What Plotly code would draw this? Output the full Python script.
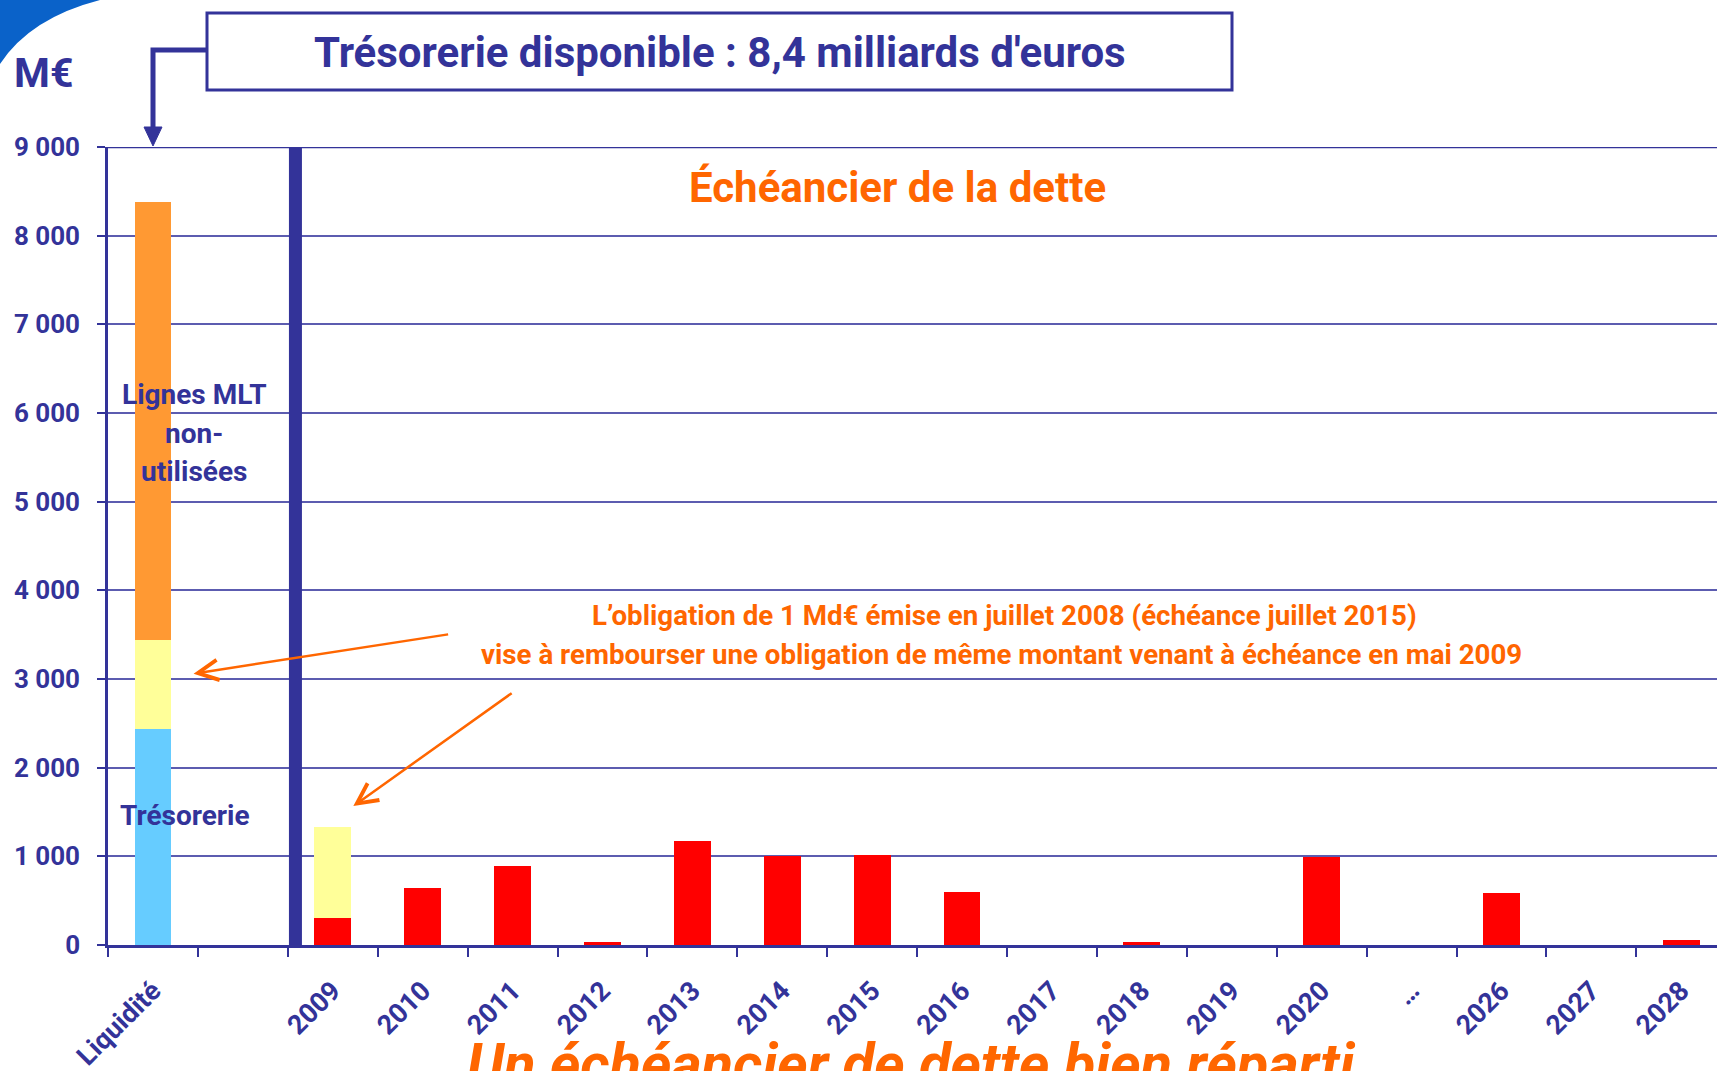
import plotly.graph_objects as go

# ---------------- data ----------------
categories = ["Liquidité", " ", "2009", "2010", "2011", "2012", "2013", "2014",
              "2015", "2016", "2017", "2018", "2019", "2020", "…", "2026", "2027", "2028"]

tresorerie = [2440, None, None, None, None, None, None, None, None, None,
              None, None, None, None, None, None, None, None]
dette = [None, None, 308, 642, 892, 34, 1172, 1008, 1010, 597,
         0, 30, 0, 988, 0, 586, 0, 55]
obligation = [1003, None, 1026, None, None, None, None, None, None, None,
              None, None, None, None, None, None, None, None]
lignes_mlt = [4937, None, None, None, None, None, None, None, None, None,
              None, None, None, None, None, None, None, None]

y_tickvals = [0, 1000, 2000, 3000, 4000, 5000, 6000, 7000, 8000, 9000]
y_ticktext = ["0", "1 000", "2 000", "3 000", "4 000", "5 000", "6 000", "7 000", "8 000", "9 000"]

# ---------------- style ----------------
NAVY = "#333399"
ORANGE_TXT = "#FF6600"
GRID = "#5C5CB0"
FONT = "Roboto, Liberation Sans, sans-serif"

W, H = 1717, 1071
ML, MT, MB, MR = 108, 147, 126, 0
PW, PH = W - ML - MR, H - MT - MB
CAT_PX = 89.9


def px(x):
    return (x - ML) / PW


def py(y):
    return (MT + PH - y) / PH


fig = go.Figure()
fig.add_trace(go.Bar(x=categories, y=tresorerie, name="Trésorerie",
                     marker=dict(color="#66CCFF", line=dict(width=0)), width=0.41))
fig.add_trace(go.Bar(x=categories, y=dette, name="Dette",
                     marker=dict(color="#FF0000", line=dict(width=0)), width=0.41))
fig.add_trace(go.Bar(x=categories, y=obligation, name="Obligation",
                     marker=dict(color="#FFFF99", line=dict(width=0)), width=0.41))
fig.add_trace(go.Bar(x=categories, y=lignes_mlt, name="Lignes MLT non-utilisées",
                     marker=dict(color="#FF9933", line=dict(width=0)), width=0.41))

shapes = []
# blue corner swoosh
shapes.append(dict(type="path", xref="paper", yref="paper",
                   path=f"M {px(0)},{py(0)} L {px(100)},{py(0)} Q {px(30)},{py(18)} {px(0)},{py(64)} Z",
                   fillcolor="#0A62C9", line=dict(width=0), layer="above"))
# title box
shapes.append(dict(type="rect", xref="paper", yref="paper",
                   x0=px(207), x1=px(1232), y0=py(90), y1=py(13),
                   line=dict(color=NAVY, width=3), fillcolor="white"))
# connector from box to liquidity column
shapes.append(dict(type="path", xref="paper", yref="paper",
                   path=f"M {px(207)},{py(50)} L {px(153)},{py(50)} L {px(153)},{py(130)}",
                   line=dict(color=NAVY, width=5)))
shapes.append(dict(type="path", xref="paper", yref="paper",
                   path=f"M {px(144)},{py(127)} L {px(162)},{py(127)} L {px(153)},{py(146)} Z",
                   fillcolor=NAVY, line=dict(color=NAVY, width=1)))
# top frame line
shapes.append(dict(type="line", xref="paper", yref="y", x0=0, x1=1, y0=9000, y1=9000,
                   line=dict(color=NAVY, width=2.5)))
# thick separator between liquidity and debt schedule
shapes.append(dict(type="line", xref="x", yref="y", x0=1.585, x1=1.585, y0=0, y1=9040,
                   line=dict(color=NAVY, width=13)))

annotations = []


def txt(text, x, y, size, color=NAVY, italic=False, xanchor="center"):
    annotations.append(dict(text=text, xref="paper", yref="paper", x=px(x), y=py(y),
                            xanchor=xanchor, yanchor="middle", showarrow=False,
                            font=dict(family=FONT, size=size, color=color, weight="bold",
                                      style="italic" if italic else "normal")))


txt("M€", 43, 73, 41)
txt("Trésorerie disponible : 8,4 milliards d'euros", 720, 53, 42)
txt("Échéancier de la dette", 897, 188, 42, ORANGE_TXT)
txt("L’obligation de 1 Md€ émise en juillet 2008 (échéance juillet 2015)", 1004, 615, 27.7, ORANGE_TXT)
txt("vise à rembourser une obligation de même montant venant à échéance en mai 2009", 1001, 654, 27.7, ORANGE_TXT)
txt("Lignes MLT", 194, 394, 28)
txt("non-", 194, 433, 28)
txt("utilisées", 194, 471, 28)
txt("Trésorerie", 185, 815, 28)
txt("Un échéancier de dette bien réparti", 911, 1064, 58, ORANGE_TXT, italic=True)

# orange arrows (data coordinates)
for (hx, hy, tx, ty) in [(0.452, 3060, 3.30, 3506), (2.229, 1567, 4.007, 2852)]:
    annotations.append(dict(x=hx, y=hy, ax=tx, ay=ty, xref="x", yref="y", axref="x", ayref="y",
                            text="", showarrow=True, arrowhead=5, arrowsize=1.6,
                            arrowwidth=2.5, arrowcolor="#FF6600"))

fig.update_layout(
    width=W, height=H, autosize=False,
    margin=dict(l=ML, r=MR, t=MT, b=MB, pad=0, autoexpand=False),
    paper_bgcolor="white", plot_bgcolor="white",
    barmode="stack", bargap=0.59, showlegend=False,
    shapes=shapes, annotations=annotations,
    font=dict(family=FONT, color=NAVY),
)
fig.update_xaxes(type="category", range=[-0.5, -0.5 + PW / CAT_PX], automargin=False,
                 tickson="boundaries", ticks="outside", ticklen=9, tickwidth=1.5,
                 tickcolor=NAVY, showline=True, linecolor=NAVY, linewidth=3,
                 showgrid=False, zeroline=False, tickangle=-45, ticklabelstandoff=16,
                 tickfont=dict(family=FONT, size=27, color=NAVY, weight="bold"))
fig.update_yaxes(range=[0, 9000], tickvals=y_tickvals, ticktext=y_ticktext, automargin=False,
                 ticks="outside", ticklen=8, tickwidth=1.5, tickcolor=NAVY,
                 showline=True, linecolor=NAVY, linewidth=2.5,
                 showgrid=True, gridcolor=GRID, gridwidth=1.5, zeroline=False,
                 ticklabelstandoff=12,
                 tickfont=dict(family=FONT, size=26, color=NAVY, weight="bold"))

fig.write_html("out.html", config=dict(displayModeBar=False),
               post_script="document.body.style.margin='0';document.body.style.overflow='hidden';")
